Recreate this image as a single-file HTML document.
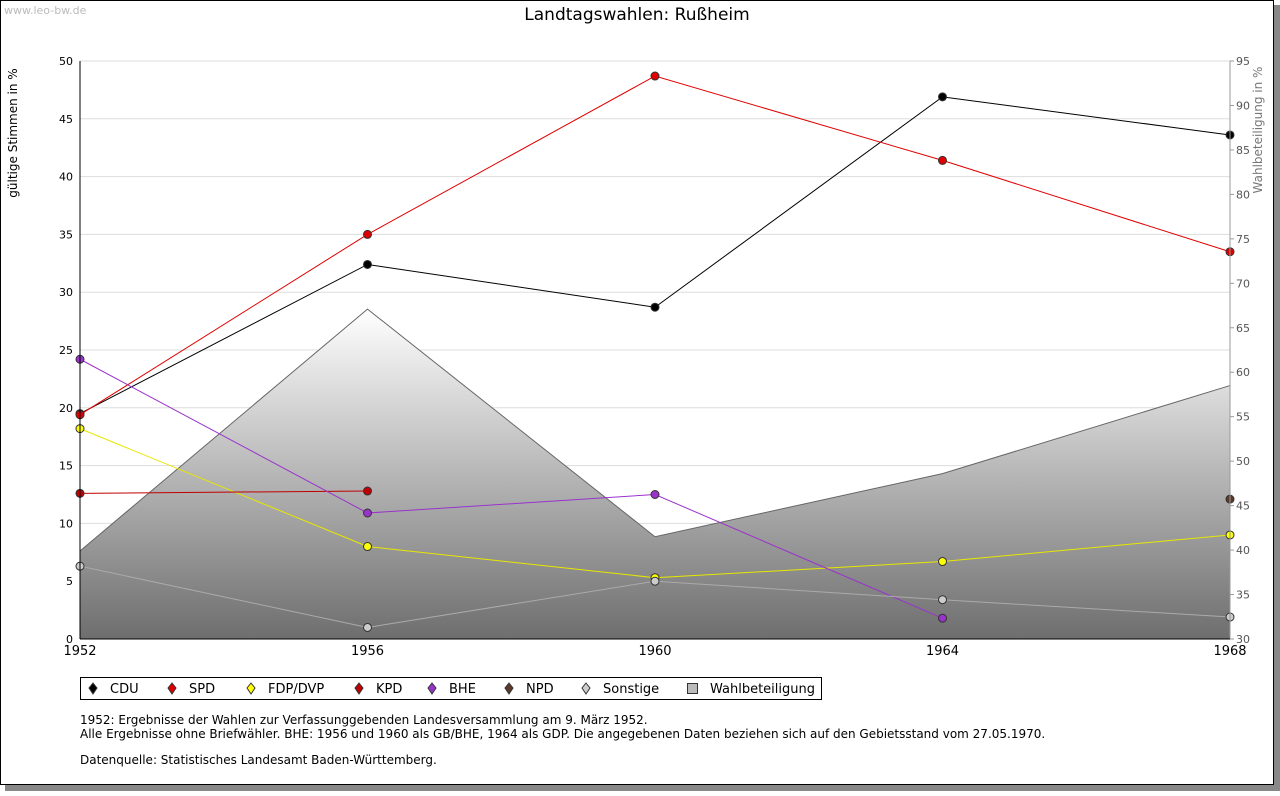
<!DOCTYPE html>
<html><head><meta charset="utf-8"><style>
body{margin:0;background:#fff;font-family:"Liberation Sans","DejaVu Sans",sans-serif}
svg text{font-family:"DejaVu Sans","Liberation Sans",sans-serif}
</style></head><body>
<svg id="c" width="1280" height="791" xmlns="http://www.w3.org/2000/svg">
<defs><linearGradient id="g" x1="0" y1="0" x2="0" y2="1"><stop offset="0" stop-color="#ffffff"/><stop offset="1" stop-color="#6e6e6e"/></linearGradient></defs>
<rect x="5" y="5" width="1275" height="786" fill="#888"/>
<rect x="0.5" y="0.5" width="1273" height="784" fill="#fff" stroke="#000"/>
<text x="4" y="14" font-size="11" fill="#bbb">www.leo-bw.de</text>
<text x="637" y="20" font-size="17" text-anchor="middle">Landtagswahlen: Rußheim</text>
<text transform="translate(17,133) rotate(-90)" font-size="12" text-anchor="middle">gültige Stimmen in %</text>
<text transform="translate(1262,130) rotate(-90)" font-size="12" fill="#777" text-anchor="middle">Wahlbeteiligung in %</text>
<g id="grid"></g><g id="area"></g><g id="lines"></g><g id="axes"></g>
<rect x="80.5" y="677.5" width="741" height="22" fill="#fff" stroke="#000"/>
<g id="legend" font-size="13"></g>
<g font-size="12">
<text x="80" y="724">1952: Ergebnisse der Wahlen zur Verfassunggebenden Landesversammlung am 9. März 1952.</text>
<text x="80" y="738">Alle Ergebnisse ohne Briefwähler. BHE: 1956 und 1960 als GB/BHE, 1964 als GDP. Die angegebenen Daten beziehen sich auf den Gebietsstand vom 27.05.1970.</text>
<text x="80" y="764">Datenquelle: Statistisches Landesamt Baden-Württemberg.</text>
</g>
</svg>
<script>
const years=[1952,1956,1960,1964,1968];
const cdu=[19.5,32.4,28.7,46.9,43.6];
const spd=[19.4,35.0,48.7,41.4,33.5];
const fdp=[18.2,8.0,5.3,6.7,9.0];
const kpd=[12.6,12.8,null,null,null];
const bhe=[24.2,10.9,12.5,1.8,null];
const npd=[null,null,null,null,12.1];
const sonst=[6.3,1.0,5.0,3.4,1.9];
const turnout=[39.9,67.1,41.5,48.6,58.5];
const leftTicks=[0,5,10,15,20,25,30,35,40,45,50];
const rightTicks=[30,35,40,45,50,55,60,65,70,75,80,85,90,95];
const NS="http://www.w3.org/2000/svg";
const X0=80,X1=1230,Y0=639,Y1=61;
const x=i=>X0+(years[i]-1952)/(1968-1952)*(X1-X0);
const y=v=>Y0-v/50*(Y0-Y1);
const y2=v=>Y0-(v-30)/65*(Y0-Y1);
function el(p,t,a){const e=document.createElementNS(NS,t);for(const k in a)e.setAttribute(k,a[k]);document.getElementById(p).appendChild(e);return e;}
leftTicks.forEach(v=>{
 if(v>0){const l=el('grid','line',{x1:X0,x2:X1,y1:y(v),y2:y(v),stroke:'#ddd'});
 
 }
 const t=el('axes','text',{x:73,y:y(v)+4,'font-size':11,'text-anchor':'end'});t.textContent=v;
 
 
});
rightTicks.forEach(v=>{
 const t=el('axes','text',{x:1236,y:y2(v)+4,'font-size':11,fill:'#555'});t.textContent=v;
 
 
 el('axes','line',{x1:1230,x2:1234,y1:y2(v),y2:y2(v),stroke:'#999'});
});
years.forEach((yr,i)=>{
 const t=el('axes','text',{x:x(i),y:655,'font-size':13,'text-anchor':'middle'});t.textContent=yr;
 
 
});
let d='M'+X0+','+Y0;turnout.forEach((v,i)=>d+=' L'+x(i)+','+y2(v));d+=' L'+X1+','+Y0+'Z';
const ar=el('area','path',{d:d,fill:'url(#g)'});


let d2='';turnout.forEach((v,i)=>d2+=(i?' L':'M')+x(i)+','+y2(v));
el('area','path',{d:d2,fill:'none',stroke:'#666'});
el('axes','line',{x1:X0,x2:X0,y1:Y1,y2:Y0,stroke:'#000'});
el('axes','line',{x1:X1,x2:X1,y1:Y1,y2:Y0,stroke:'#999'});
el('axes','line',{x1:X0,x2:X1,y1:Y0,y2:Y0,stroke:'#000'});
const series=[['cdu',cdu,'#000','#000'],['spd',spd,'#e00000','#e00000'],['fdp',fdp,'#e8e800','#ffff00'],['kpd',kpd,'#c00000','#c00000'],['bhe',bhe,'#9933cc','#9933cc'],['npd',npd,'#5a3a2a','#5a3a2a'],['sonstige',sonst,'#aaa','#ccc']];
series.forEach(([n,vals,lc,fc])=>{
 let p='';vals.forEach((v,i)=>{if(v!=null)p+=(p?' L':'M')+x(i)+','+y(v);});
 const l=el('lines','path',{d:p,fill:'none',stroke:lc});
 
 
 vals.forEach((v,i)=>{if(v==null)return;
  const m=el('lines','circle',{cx:x(i),cy:y(v),r:4,fill:fc,stroke:'#333'});
  
  });
});
const leg=[['CDU','#000',93],['SPD','#e00000',172],['FDP/DVP','#ffff00',251],['KPD','#c00000',359],['BHE','#9933cc',432],['NPD','#5a3a2a',509],['Sonstige','#ccc',586]];
leg.forEach(([n,c,px])=>{
 const m=el('legend','path',{d:`M${px},683 L${px+4},688 L${px},694 L${px-4},688Z`,fill:c,stroke:'#333'});
 
 
 const t=el('legend','text',{x:px+17,y:693});t.textContent=n;
 
 
});
const sq=el('legend','rect',{x:687.5,y:683.5,width:10,height:10,fill:'#bbb',stroke:'#333'});


const wt=el('legend','text',{x:710,y:693});wt.textContent='Wahlbeteiligung';


</script>
</body></html>
